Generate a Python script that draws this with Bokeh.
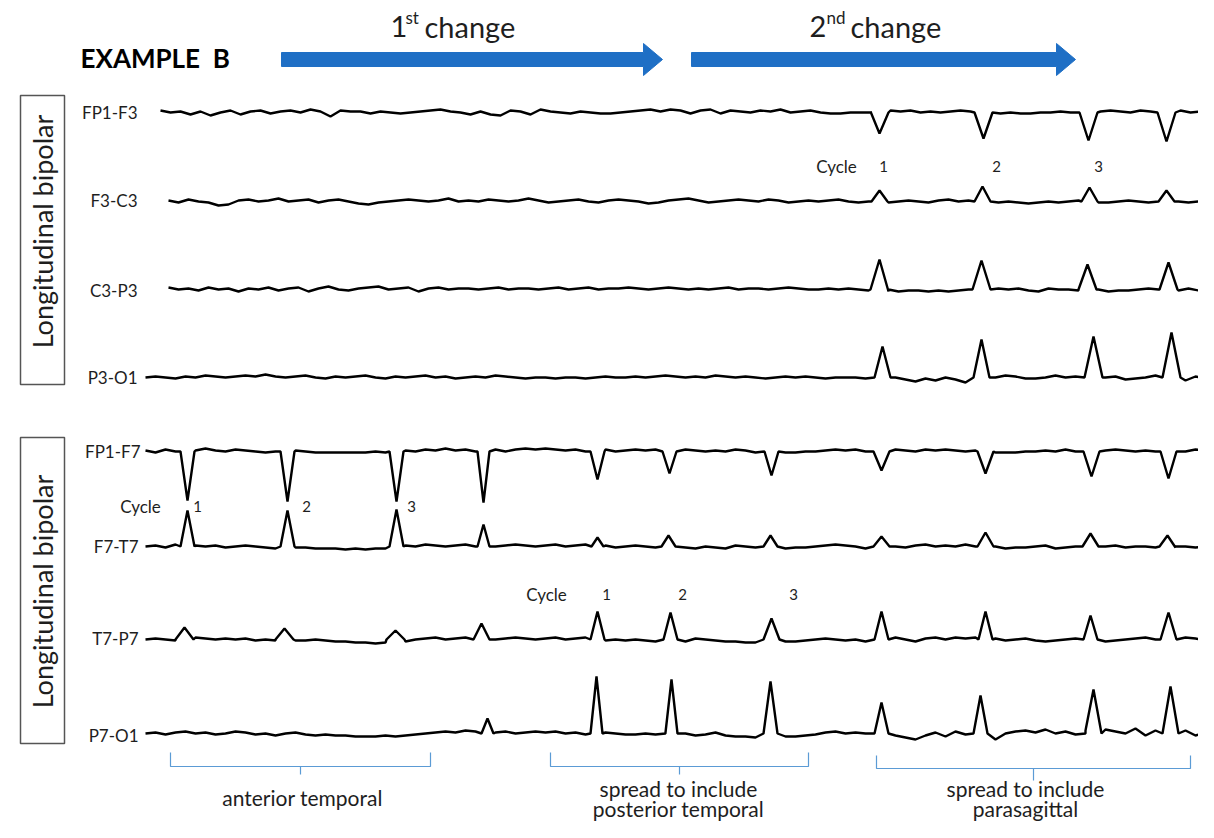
import numpy as np
from bokeh.plotting import figure
from bokeh.models import Range1d
from bokeh.core.properties import value
from bokeh.embed import file_html
from bokeh.resources import INLINE

# ---------------- data ----------------
channels = ["FP1-F3", "F3-C3", "C3-P3", "P3-O1", "FP1-F7", "F7-T7", "T7-P7", "P7-O1"]

# background activity (offset, positive = upward), one sample every 10 px
fp1_f3 = [2, 0, 1, -2, 1, -3, 0, 2, -2, 1, 2, -1, 1, 2, 0, 3, 1, -4, 2, 1,
          1, -1, 1, 0, -1, 0, 1, 2, 3, 1, 0, -2, 1, -2, -3, 2, 1, -2, 3, 1,
          0, -1, 1, 0, -1, -1, 0, 1, 2, 3, 1, 3, 2, -1, 2, 3, -1, 2, 1, 0,
          2, 1, 3, 0, 1, 2, 0, -1, -1, 0, 0, 1, 0, 2, 1, 2, 0, 1, 0, 1,
          2, 1, 0, 1, -1, 0, -1, -1, 0, 0, 1, 0, 0, 2, 1, 2, 1, 0, 2, 1,
          0, 1, 2, 0, 1, 2]
f3_c3 = [1, -1, 2, 0, -1, -4, -3, 1, 2, 0, 1, 3, 0, 1, 2, -1, 1, 2, 0, -2,
         -3, -1, 0, 1, 2, 1, 0, 1, 3, 0, 1, 0, 2, 1, 0, 1, 3, 1, -1, 0,
         1, 2, 0, -1, 1, 2, 1, 0, -2, -1, 1, 2, 3, 1, -1, 0, 1, 2, 1, 0,
         2, 1, -1, 0, 1, 0, 1, 2, 0, -1, 0, 1, -1, 0, 1, 0, -1, 1, 2, 0,
         1, 2, 0, -1, 0, -1, -2, -1, 0, -1, 0, 1, 0, -1, -1, 0, 1, 0, -1, 0,
         1, 0, -1, 0, 1]
c3_p3 = [2, 0, 1, -1, 2, 0, 1, -2, 1, 0, 2, -1, 1, 2, -2, 1, 3, 0, -1, 1,
         2, 3, 0, 1, 2, -2, 1, 2, 0, 1, 1, 0, 1, 2, 0, 1, 1, 0, 1, 2,
         0, 1, 2, 0, 1, 1, 2, 1, 0, 1, 2, 1, 0, 1, 0, 1, 2, 0, 1, 1,
         0, 1, 2, 1, 0, 0, 1, 0, 1, 0, -1, -1, -2, -2, -1, -1, -2, -1, -2, -1,
         0, -1, -2, 1, 0, 1, -1, -2, 1, 0, 0, -1, -1, 0, -2, -1, -1, 0, 1, 0,
         2, -1, 1, -1, 1]
p3_o1 = [0, 1, 0, -1, 1, 0, 2, 1, 0, 1, 2, 1, 3, 1, 0, 1, 2, 0, -1, 1,
         0, 1, 2, 0, -1, 1, 0, 1, 2, 0, 1, -1, 0, 1, 0, 2, 1, 0, -1, 0,
         0, -1, 0, 0, -1, 0, 1, 0, 0, 1, 0, 1, 2, 1, 0, 1, 0, 2, 1, 0,
         1, 0, -1, 0, 1, 0, 1, 0, -1, 0, 0, 0, -1, 1, 2, 0, -2, -4, -1, -3,
         0, -2, -5, 0, 1, 0, 2, 1, -1, -1, 0, 2, 0, 1, -1, 1, 0, 1, -2, -1,
         0, 2, -2, 2, -3, 1, -1, 1]
fp1_f7 = [1, -1, 2, 0, -1, 1, 3, 1, 0, 2, 1, 0, -1, 0, 2, 1, 0, -1, -1, -1,
          -1, -1, -1, 0, -1, 0, 1, 0, 2, 1, 3, 1, 2, 0, 1, 2, 0, 2, 3, 2,
          3, 2, 1, 2, 0, 1, 2, 0, 1, 2, 1, 2, 0, 1, 2, 1, 0, 1, 0, 2,
          1, -1, 0, -1, -1, -1, 0, 0, 1, 2, 1, 2, 0, 3, 1, 2, 1, 0, 2, 1,
          2, 1, 0, 1, 0, -1, -1, -1, 0, 0, 1, 0, 2, 0, 1, 2, 1, 2, 1, 0,
          1, 0, 2, 1, 0, 2, 1, 0]
f7_t7 = [0, 1, -1, 2, 0, 1, 0, 1, -1, 0, 1, 0, -1, -2, 0, -1, -1, -2, -2, -2,
         -3, -2, -3, -2, -2, -1, 1, 0, 2, 1, 0, 1, 2, 0, 1, 0, 1, 2, 1, 0,
         1, 2, 0, 1, 2, 0, 1, -1, 0, 1, 0, -1, 1, 0, -1, -2, 0, -1, -2, 1,
         0, -1, -1, -2, -2, -1, -1, 0, 1, 2, 1, 0, -2, -1, 1, 0, -1, 1, 2, 0,
         1, 0, 2, 0, -1, 0, -2, -1, -1, 0, 1, -2, -1, 0, 1, -1, 0, 1, -1, 0,
         0, -1, -2, -1, 0, -1, 0, 1]
t7_p7 = [0, 1, 0, -1, 1, 2, 1, 0, 1, 0, 1, -1, 0, -1, -2, -1, -1, 0, -1, -2,
         -2, -3, -3, -4, -3, -3, -2, 0, 1, 2, 0, 1, 2, 0, 1, 0, 1, 2, 1, 0,
         1, 2, 0, 1, 2, 0, -1, 0, -1, 0, -1, -2, -1, 0, -2, 1, 0, -1, -2, -2,
         -3, -3, -3, -3, -2, -2, -1, 0, 1, 0, -1, 0, -2, -1, 1, 2, 0, -2, 1, 2,
         0, 2, 1, 2, 0, 1, -1, 0, 1, -1, -2, -1, 0, 1, -1, -2, -2, -1, 0, 1,
         2, 0, 3, -1, 2, 1, -1, 1]
p7_o1 = [0, 1, -1, 1, 2, 0, 1, -1, 0, 2, 1, -1, 0, -2, 0, 1, -1, -2, -1, -2,
         -2, -3, -3, -3, -2, -3, -2, -1, 0, 1, 2, 1, 3, 2, 0, 1, 2, 0, 1, 2,
         1, 2, 0, 1, -1, 0, 1, 0, -1, -1, 0, -1, 1, 2, 0, -2, -1, 1, -2, -3,
         -3, -4, -4, -4, -3, -3, -2, -1, 1, 2, 0, 1, 0, 2, 1, -2, -4, -6, -2, 1,
         -3, 2, -1, 0, -4, -6, 0, 2, 3, 1, 4, 0, 2, -1, 3, 1, 4, 2, 0, 5,
         -2, 3, -4, 2, 3, -2, 1, -3]

# discharges: (time position, amplitude, half width)
spk_fp1_f3 = [(879, -21, 9), (983, -26, 9), (1088, -28, 9), (1166, -29, 9)]
spk_f3_c3 = [(879, 11, 8), (982, 15, 8), (1089, 14, 8), (1166, 11, 8)]
spk_c3_p3 = [(879, 30, 9), (981, 29, 9), (1087, 25, 9), (1168, 27, 9)]
spk_p3_o1 = [(882, 31, 8), (981, 38, 8), (1093, 41, 9), (1171, 45, 9)]
spk_fp1_f7 = [(187, -49, 7), (287, -50, 7), (396, -50, 7), (483, -51, 6), (597, -28, 7),
              (669, -22, 7), (771, -24, 7), (881, -19, 8), (985, -22, 8), (1091, -25, 8),
              (1168, -27, 8)]
spk_f7_t7 = [(187, 36, 7), (287, 36, 7), (396, 37, 7), (483, 22, 6), (597, 9, 6),
             (668, 11, 7), (770, 11, 7), (881, 10, 8), (985, 14, 8), (1090, 13, 8),
             (1167, 11, 8)]
spk_t7_p7 = [(184, 12, 9), (284, 11, 9), (395, 9, 9), (481, 16, 8), (597, 28, 7),
             (670, 27, 7), (771, 21, 8), (881, 28, 7), (985, 28, 7), (1090, 24, 7),
             (1168, 27, 8)]
spk_p7_o1 = [(487, 15, 6), (596, 57, 6), (671, 54, 6), (770, 52, 7), (881, 31, 7),
             (980, 38, 7), (1093, 44, 8), (1170, 47, 8)]

region_labels = [["anterior temporal"],
                 ["spread to include", "posterior temporal"],
                 ["spread to include", "parasagittal"]]
cycle_numbers = ["1", "2", "3"]

# ---------------- layout ----------------
wiggles = [fp1_f3, f3_c3, c3_p3, p3_o1, fp1_f7, f7_t7, t7_p7, p7_o1]
spikes = [spk_fp1_f3, spk_f3_c3, spk_c3_p3, spk_p3_o1, spk_fp1_f7, spk_f7_t7, spk_t7_p7, spk_p7_o1]
row_y = [112, 201, 289, 377, 451, 546, 639, 733]
row_x0 = [160, 168, 168, 145, 145, 145, 145, 145]
label_right = [137, 137, 137, 137, 140, 138, 138, 138]
label_y = [112, 200, 290, 377, 451, 546, 638, 735]

FONT = "Lato"
TXT = "#1e1e1e"
p = figure(width=1198, height=822, x_range=Range1d(0, 1198), y_range=Range1d(822, 0),
           output_backend="svg", toolbar_location=None, min_border=0)
p.axis.visible = False
p.grid.visible = False
p.outline_line_color = None
p.background_fill_color = "white"


def build(x0, vals, base, spk):
    pts = [(x0 + 10 * i, v) for i, v in enumerate(vals)]
    for xc, amp, hw in spk:
        pts = [(x, y) for (x, y) in pts if abs(x - xc) >= hw]
        pts += [(xc - hw, 0), (xc, amp), (xc + hw, 0)]
    pts.sort()
    return [x for x, _ in pts], [base - y for _, y in pts]


for w, s, by, x0 in zip(wiggles, spikes, row_y, row_x0):
    xs, ys = build(x0, w, by, s)
    p.line(xs, ys, line_color="black", line_width=2.4)

p.text(x=label_right, y=label_y, text=channels, text_align="right", text_baseline="middle",
       text_font=value(FONT), text_font_size="17px", text_color=TXT)

# montage boxes
p.quad(left=[20, 20], right=[64, 64], top=[95, 437], bottom=[384, 743],
       fill_color=None, line_color="#555555", line_width=1.5)
p.text(x=[42, 42], y=[231, 591], text=["Longitudinal bipolar"] * 2, angle=np.pi / 2,
       text_align="center", text_baseline="middle", text_font=value(FONT),
       text_font_size="27px", text_color=TXT)

# title
p.text(x=[80], y=[57], text=["EXAMPLE\u00a0\u00a0B"], text_align="left", text_baseline="middle",
       text_font=value(FONT), text_font_size="26px", text_font_style="bold", text_color="black")

# arrows
blue = "#1f6fc5"
for xa, xb in [(281, 662), (691, 1075)]:
    hx = xb - 19
    p.patch([xa, hx, hx, xb, hx, hx, xa], [52, 52, 43, 59, 75, 66, 66],
            fill_color=blue, line_color=blue, line_width=1)

# change labels
p.text(x=[390, 809], y=[26, 26], text=["1", "2"], text_baseline="middle",
       text_font=value(FONT), text_font_size="29px", text_color=TXT)
p.text(x=[405, 826], y=[17, 17], text=["st", "nd"], text_baseline="middle",
       text_font=value(FONT), text_font_size="17px", text_color=TXT)
p.text(x=[424, 850], y=[26, 26], text=["change", "change"], text_baseline="middle",
       text_font=value(FONT), text_font_size="29px", text_color=TXT)

# cycle annotations
p.text(x=[836, 140, 546], y=[166, 506, 594], text=["Cycle"] * 3, text_align="center",
       text_baseline="middle", text_font=value(FONT), text_font_size="17px", text_color=TXT)
p.text(x=[883, 996, 1098, 197, 306, 411, 606, 682, 793], y=[166] * 3 + [506] * 3 + [594] * 3,
       text=cycle_numbers * 3, text_align="center", text_baseline="middle",
       text_font=value(FONT), text_font_size="15px", text_color=TXT)

# brackets
br_col = "#5b9bd5"
brackets = [(170, 430, 752, 766, 774), (550, 808, 752, 766, 774), (876, 1190, 755, 768, 780)]
for a, b, t, m, bt in brackets:
    c = (a + b) / 2
    p.line([a, a, b, b], [t, m, m, t], line_color=br_col, line_width=1.2)
    p.line([c, c], [m, bt], line_color=br_col, line_width=1.2)

p.text(x=[302, 678, 678, 1025, 1025], y=[797, 788, 808, 788, 808],
       text=[region_labels[0][0], region_labels[1][0], region_labels[1][1],
             region_labels[2][0], region_labels[2][1]],
       text_align="center", text_baseline="middle", text_font=value(FONT),
       text_font_size="21px", text_color=TXT)

open("out.html", "w").write(file_html(p, INLINE))
